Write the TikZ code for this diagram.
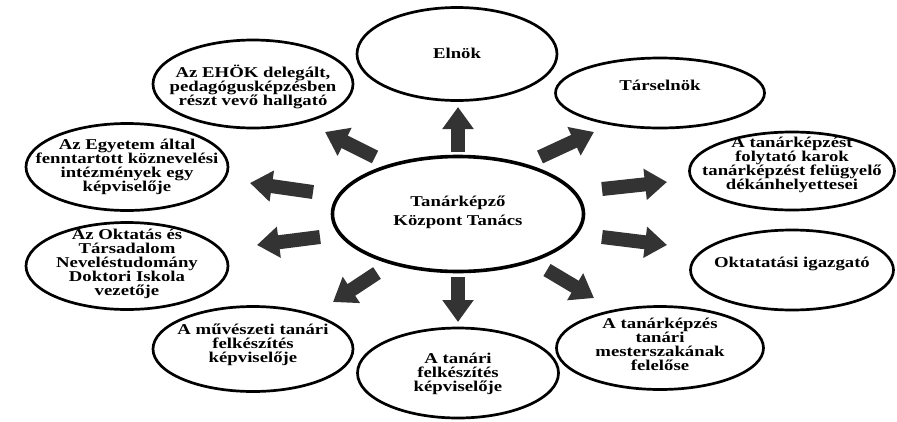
\documentclass[tikz,border=0pt]{standalone}
\usepackage{fontspec}
\setmainfont{Liberation Serif}[FakeStretch=1.25]
\usepackage{tikz}
\usetikzlibrary{shapes.geometric,arrows.meta}
\definecolor{nyilszurke}{HTML}{333333}

\begin{document}
\begin{tikzpicture}[x=1pt,y=-1pt,
		tag/.style={ellipse,draw,line width=2.7pt,inner sep=0pt},
		szoveg/.style={align=center,font=\bfseries\fontsize{15}{14}\selectfont},
		nyil/.style={nyilszurke,line width=14pt,-{Triangle[length=22pt,width=30pt]}}]
					\useasboundingbox (0,0) rectangle (897,421);
					% kozepso ellipszis
					\node[tag,line width=3.6pt,minimum width=251pt,minimum height=115pt] (tanacs) at (458,214) {};
					\node[szoveg,font=\bfseries\fontsize{15}{19}\selectfont] (tanacs-sz) at (458,212) {Tanárképző\\Központ Tanács};
					
					\node[tag,minimum width=200pt,minimum height=93pt] (elnok) at (457,54) {};
					\node[szoveg] (elnok-sz) at (457,53) {Elnök};
					
					\node[tag,minimum width=209pt,minimum height=70pt] (tarselnok) at (660,93) {};
					\node[szoveg] (tarselnok-sz) at (660,85) {Társelnök};
					
					\node[tag,minimum width=205pt,minimum height=78pt] (dekan) at (792,171) {};
					\node[szoveg] (dekan-sz) at (792,165) {A tanárképzést\\folytató karok\\tanárképzést felügyelő\\dékánhelyettesei};
					
					\node[tag,minimum width=203pt,minimum height=80pt] (igazgato) at (792,270) {};
					\node[szoveg] (igazgato-sz) at (792,264) {Oktatatási igazgató};
					
					\node[tag,minimum width=207pt,minimum height=83pt] (mester) at (660,348) {};
					\node[szoveg] (mester-sz) at (660,344) {A tanárképzés\\tanári\\mesterszakának\\felelőse};
					
					\node[tag,minimum width=201pt,minimum height=90pt] (tanari) at (458,373) {};
					\node[szoveg] (tanari-sz) at (458,374) {A tanári\\felkészítés\\képviselője};
					
					\node[tag,minimum width=200pt,minimum height=85pt] (muveszeti) at (253,349) {};
					\node[szoveg] (muveszeti-sz) at (253,345) {A művészeti tanári\\felkészítés\\képviselője};
					
					\node[tag,minimum width=202pt,minimum height=87pt] (doktori) at (127,266) {};
					\node[szoveg] (doktori-sz) at (127,264) {Az Oktatás és\\Társadalom\\Neveléstudomány\\Doktori Iskola\\vezetője};
					
					\node[tag,minimum width=202pt,minimum height=87pt] (egyetem) at (127,167) {};
					\node[szoveg] (egyetem-sz) at (127,167) {Az Egyetem által\\fenntartott köznevelési\\intézmények egy\\képviselője};
					
					\node[tag,minimum width=200pt,minimum height=88pt] (ehok) at (253,84) {};
					\node[szoveg] (ehok-sz) at (253,87) {Az EHÖK delegált,\\pedagógusképzésben\\részt vevő hallgató};
					
					% nyilak
					\coordinate (elnok-a) at (458,152);      \coordinate (elnok-b) at (458,107);
					\coordinate (tarselnok-a) at (540,157);  \coordinate (tarselnok-b) at (594,132);
					\coordinate (dekan-a) at (602,189);      \coordinate (dekan-b) at (667,182);
					\coordinate (igazgato-a) at (602,237);   \coordinate (igazgato-b) at (667,245);
					\coordinate (mester-a) at (547,270);     \coordinate (mester-b) at (594,298);
					\coordinate (tanari-a) at (458,277);     \coordinate (tanari-b) at (458,322);
					\coordinate (muveszeti-a) at (377,273);  \coordinate (muveszeti-b) at (333,302);
					\coordinate (doktori-a) at (320,237);    \coordinate (doktori-b) at (257,245);
					\coordinate (egyetem-a) at (313,192);    \coordinate (egyetem-b) at (250,183);
					\coordinate (ehok-a) at (375,157);       \coordinate (ehok-b) at (325,132);
					
					\draw[nyil] (elnok-a) -- (elnok-b);
					\draw[nyil] (tarselnok-a) -- (tarselnok-b);
					\draw[nyil] (dekan-a) -- (dekan-b);
					\draw[nyil] (igazgato-a) -- (igazgato-b);
					\draw[nyil] (mester-a) -- (mester-b);
					\draw[nyil] (tanari-a) -- (tanari-b);
					\draw[nyil] (muveszeti-a) -- (muveszeti-b);
					\draw[nyil] (doktori-a) -- (doktori-b);
					\draw[nyil] (egyetem-a) -- (egyetem-b);
					\draw[nyil] (ehok-a) -- (ehok-b);
				\end{tikzpicture}
\end{document}
